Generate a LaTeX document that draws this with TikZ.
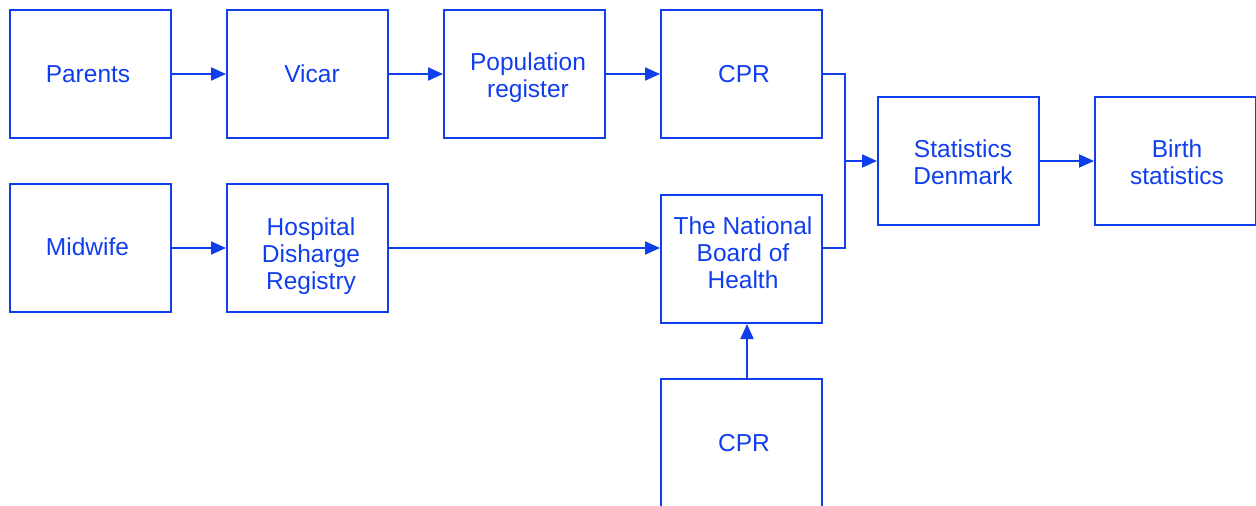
\documentclass[tikz,border=0pt]{standalone}
\usepackage{fontspec}
\setmainfont{Liberation Sans}
\usetikzlibrary{arrows.meta,calc}
\definecolor{bl}{RGB}{16,62,236}
\begin{document}
\begin{tikzpicture}[x=1pt,y=-1pt,
  box/.style={draw=bl,line width=2pt,minimum width=161pt,minimum height=128pt,inner sep=0pt},
  txt/.style={text=bl,font=\fontsize{24.5pt}{27.2pt}\selectfont,align=center,inner sep=0pt},
  arr/.style={draw=bl,line width=2pt,-{Triangle[length=15pt,width=13pt]}},
  ln/.style={draw=bl,line width=2pt}]
\useasboundingbox (0,0) rectangle (1256,506);
\node[box] (par) at (90.5,74) {};
\node[box] (vic) at (307.5,74) {};
\node[box] (pop) at (524.5,74) {};
\node[box] (cpa) at (741.5,74) {};
\node[box] (sta) at (958.5,161) {};
\node[box] (bir) at (1175.5,161) {};
\node[box] (mid) at (90.5,248) {};
\node[box] (hos) at (307.5,248) {};
\node[box] (nbh) at (741.5,259) {};
\node[box] (cpb) at (741.5,443) {};
\node[txt] (part) at (88,74) {Parents};
\node[txt] (vict) at (312,74) {Vicar};
\node[txt] (popt) at (528,78) {Population\\register};
\node[txt] (cpat) at (744,74) {CPR};
\node[txt] (stat) at (963,162.5) {Statistics\\Denmark};
\node[txt] (birt) at (1177,162.5) {Birth\\statistics};
\node[txt] (midt) at (87.5,247) {Midwife};
\node[txt] (host) at (311,256) {Hospital\\Disharge\\Registry};
\node[txt] (nbht) at (743,253) {The National\\Board of\\Health};
\node[txt] (cpbt) at (744,443) {CPR};
\coordinate (j) at (845,161);
\draw[arr] (par) -- (vic);
\draw[arr] (vic) -- (pop);
\draw[arr] (pop) -- (cpa);
\draw[ln] (cpa.east) -| (j);
\draw[ln] (hos.east -| nbh.east) -| (j);
\draw[arr] (j) -- (sta.west);
\draw[arr] (sta) -- (bir);
\draw[arr] (mid) -- (hos);
\draw[arr] (hos.east) -- (hos.east -| nbh.west);
\draw[arr] ([xshift=5.5pt]cpb.north) -- ([xshift=5.5pt]nbh.south);
\end{tikzpicture}
\end{document}
